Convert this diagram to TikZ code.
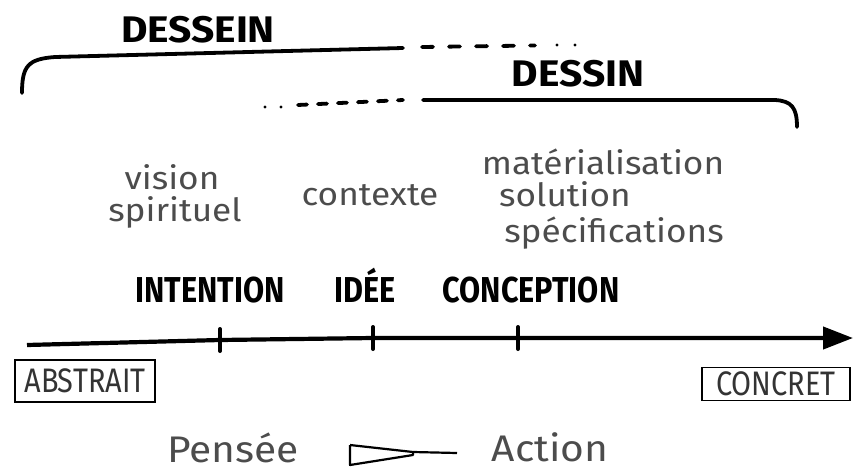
\documentclass[tikz,border=0pt]{standalone}
\usepackage{fontspec}
\setmainfont{Fira Sans}
\newfontfamily\handcaps[FakeStretch=0.85]{Fira Sans}
\newfontfamily\handwide[FakeStretch=1.1]{Fira Sans}
\newfontfamily\handlow[FakeStretch=1.1]{Fira Sans}
\usetikzlibrary{positioning,arrows.meta}

\tikzset{
    bigcaps/.style={font=\handwide\fontsize{37}{39}\selectfont\bfseries},
    stagecaps/.style={font=\handcaps\fontsize{36}{38}\selectfont\bfseries},
    note/.style={font=\handlow\fontsize{32}{34}\selectfont, text=black!70, inner sep=0pt},
    endbox/.style={draw, line width=1.6pt, font=\handcaps\fontsize{34}{36}\selectfont, text=black!80, inner sep=2pt},
    bracket/.style={line width=3.8pt, line cap=round},
}

\begin{document}
\begin{tikzpicture}[x=1pt, y=-1pt]
    \useasboundingbox (0,0) rectangle (854,471);

    % Top bracket: DESSEIN
    \node[bigcaps] (dessein) at (198,30) {DESSEIN};
    \coordinate (dsStart) at (22,93);
    \coordinate (dsEnd) at (403,48);
    \draw[bracket] (dsStart) .. controls (22,66) and (28,59) .. (55,57) -- (dsEnd);
    \draw[bracket, dash pattern=on 11pt off 16pt] (422,47) -- (535,45.5);
    \foreach \x in {557,575} {
        \fill (\x,45) circle (1.7pt);
    }

    % Lower bracket: DESSIN
    \node[bigcaps] (dessin) at (578,74) {DESSIN};
    \coordinate (dnStart) at (423,100);
    \coordinate (dnEnd) at (797,127);
    \foreach \x in {265,281} {
        \fill (\x,107) circle (1.7pt);
    }
    \draw[bracket, dash pattern=on 9pt off 11pt] (298,105) -- (403,100);
    \draw[bracket] (dnStart) -- (775,100) .. controls (792,101) and (797,108) .. (dnEnd);

    % Notes above the stages
    \node[note] (vision) at (172,177) {vision};
    \node[note] (spirit) at (175,212) {spirituel};
    \node[note] (contexte) at (370,195) {contexte};
    \node[note] (materi) at (603,162) {matérialisation};
    \node[note] (solution) at (565,194) {solution};
    \node[note] (specif) at (614,233) {spécifications};

    % Stage labels
    \node[stagecaps] (intention) at (210,290) {INTENTION};
    \node[stagecaps] (idee) at (365,285) {IDÉE};
    \node[stagecaps] (conception) at (531,290) {CONCEPTION};

    % Axis with ticks
    \coordinate (axisL) at (27,345);
    \coordinate (axisR) at (853,338);
    \draw[line width=4.2pt, -{Triangle[length=30pt, width=22pt]}] (axisL) -- (220,340) -- (373,338) -- (518,338) -- (axisR);
    \foreach \n/\x/\y in {tint/220/340, tid/373/338, tcon/518/338} {
        \coordinate (\n) at (\x,\y);
        \draw[line width=4pt, line cap=round] (\n) ++(0,-11) -- ++(0,22);
    }

    % End boxes
    \node[endbox, minimum width=140pt, minimum height=42pt] (abstrait) at (85,381) {ABSTRAIT};
    \node[endbox, minimum width=148pt, minimum height=33pt] (concret) at (776,384) {CONCRET};

    % Bottom line
    \node[note, font=\handlow\fontsize{37}{39}\selectfont] (pensee) at (233,448) {Pensée};
    \node[note, font=\handlow\fontsize{37}{39}\selectfont] (action) at (550,447) {Action};
    \coordinate (arrTail) at (350,445);
    \coordinate (arrHead) at (457,453);
    \draw[line width=2.2pt, line join=round] (arrTail) -- (413,452) -- (arrHead);
    \draw[line width=2.2pt, line join=round] (arrTail) -- (350,465) -- (413,455) -- (413,452);
\end{tikzpicture}
\end{document}
